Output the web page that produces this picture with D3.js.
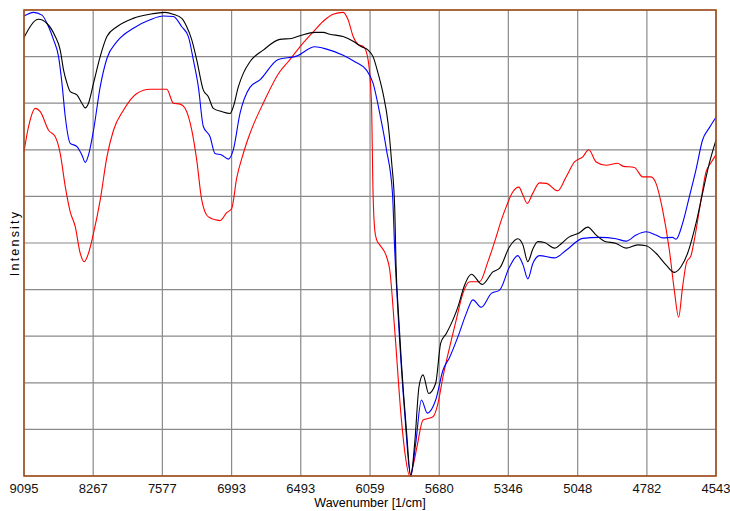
<!DOCTYPE html><html><head><meta charset="UTF-8"><title>NIR spectra</title><script src="https://d3js.org/d3.v7.min.js"></script><style>
        body { margin: 0; background: #fff; font-family: "Liberation Sans", Arial, sans-serif; }
        svg { display: block; }
        .grid line { stroke: #8a8a8a; stroke-width: 1.2; }
        .spec { fill: none; stroke-width: 1.1; }
        .tick-label { font-size: 13px; fill: #111; }
    </style></head><body><svg id="chart"></svg><script>
        // x tick labels (wavenumber, 1/cm) - axis is linear in wavelength
        const tickWavenumbers = [9095, 8267, 7577, 6993, 6493, 6059, 5680, 5346, 5048, 4782, 4543];

        // wavelength (nm) and intensity (% of range)
        const blackNm = [1099.5, 1122.7, 1136.1, 1149.3, 1157.2, 1162.5, 1167.9, 1173.1, 1183.8, 1191.7, 1197.0, 1202.2, 1210.2, 1220.8, 1231.5, 1247.4, 1273.3, 1300.3, 1324.2, 1336.9, 1350.7, 1358.6, 1366.6, 1374.5, 1385.0, 1393.0, 1400.9, 1414.3, 1427.5, 1432.7, 1440.7, 1448.6, 1459.2, 1480.4, 1506.9, 1525.5, 1541.4, 1562.6, 1575.8, 1586.4, 1607.6, 1623.5, 1636.8, 1647.3, 1655.2, 1663.2, 1671.1, 1679.1, 1684.5, 1689.8, 1691.8, 1695.3, 1700.4, 1708.3, 1715.2, 1721.5, 1728.4, 1734.7, 1743.8, 1754.9, 1762.9, 1771.9, 1782.4, 1790.4, 1801.0, 1811.7, 1829.1, 1846.0, 1856.7, 1872.5, 1885.7, 1893.7, 1901.6, 1909.6, 1917.5, 1928.2, 1944.1, 1955.2, 1966.3, 1983.8, 1997.0, 2010.4, 2023.6, 2042.2, 2058.1, 2076.5, 2089.9, 2105.7, 2121.6, 2134.8, 2145.5, 2156.0, 2169.3, 2179.8, 2190.5, 2201.2];
        const blackInt = [94.1, 98.0, 97.1, 94.3, 91.4, 87.1, 84.3, 82.5, 81.8, 80.0, 79.0, 80.0, 84.3, 90.0, 94.3, 96.4, 98.2, 99.1, 99.5, 99.1, 98.2, 96.4, 93.6, 89.3, 82.8, 81.4, 78.9, 78.2, 77.8, 79.2, 83.5, 86.4, 88.9, 91.4, 93.7, 93.9, 94.6, 95.2, 95.2, 94.8, 94.3, 93.3, 92.1, 91.4, 90.0, 86.4, 82.1, 75.7, 67.8, 57.1, 45.3, 35.6, 24.2, 9.9, 0.0, 7.0, 19.2, 21.7, 17.7, 19.9, 28.5, 30.6, 33.5, 36.3, 41.0, 43.3, 41.1, 43.8, 44.6, 49.2, 50.9, 49.6, 46.0, 48.7, 50.3, 50.1, 48.9, 49.9, 51.2, 52.2, 53.4, 51.7, 50.4, 49.9, 48.9, 49.6, 49.4, 47.8, 45.3, 43.7, 44.9, 47.8, 54.2, 60.7, 67.1, 72.1];

        const blueNm = [1099.5, 1114.8, 1128.1, 1138.6, 1146.6, 1154.5, 1159.9, 1165.2, 1173.1, 1183.8, 1191.7, 1197.0, 1202.2, 1210.2, 1220.8, 1231.5, 1247.4, 1273.7, 1300.3, 1321.4, 1337.3, 1350.7, 1361.2, 1369.1, 1377.1, 1385.0, 1395.7, 1403.6, 1414.3, 1424.8, 1432.7, 1443.4, 1459.2, 1475.1, 1504.2, 1533.5, 1562.6, 1581.2, 1607.6, 1626.2, 1644.8, 1655.2, 1665.9, 1676.6, 1686.1, 1689.7, 1695.0, 1705.6, 1715.2, 1723.1, 1732.2, 1741.7, 1754.9, 1766.5, 1777.2, 1790.4, 1803.7, 1814.2, 1827.6, 1843.5, 1856.7, 1872.5, 1885.7, 1894.0, 1901.6, 1909.6, 1920.2, 1944.1, 1963.1, 1989.1, 2015.6, 2042.2, 2058.1, 2073.9, 2089.9, 2105.7, 2116.2, 2132.1, 2137.5, 2148.0, 2158.7, 2169.3, 2179.8, 2190.5, 2201.2];
        const blueInt = [98.7, 99.5, 98.9, 96.4, 93.6, 90.0, 84.3, 77.1, 71.4, 70.7, 68.9, 67.3, 68.9, 74.2, 83.5, 89.6, 93.2, 96.1, 97.9, 98.7, 98.6, 96.4, 94.3, 89.3, 83.5, 75.0, 72.8, 69.2, 68.9, 68.0, 70.0, 77.8, 83.4, 85.0, 89.4, 90.1, 92.1, 91.6, 90.3, 88.9, 87.1, 84.3, 77.8, 70.0, 60.7, 48.5, 34.9, 13.5, 0.0, 7.0, 16.3, 13.5, 16.3, 22.7, 25.5, 29.9, 34.9, 37.8, 36.2, 39.2, 39.9, 44.9, 47.3, 45.3, 42.3, 45.6, 47.3, 46.8, 48.5, 51.0, 51.2, 50.9, 50.4, 51.7, 52.4, 51.7, 51.1, 51.2, 50.8, 54.2, 59.9, 65.7, 72.1, 74.7, 77.0];

        const redNm = [1099.5, 1106.8, 1117.5, 1125.4, 1138.6, 1149.3, 1157.2, 1165.2, 1173.1, 1181.1, 1189.0, 1195.4, 1202.2, 1210.2, 1220.8, 1231.5, 1242.0, 1257.8, 1279.1, 1300.3, 1326.8, 1337.3, 1348.0, 1355.9, 1366.6, 1374.5, 1382.5, 1393.0, 1411.6, 1422.2, 1430.2, 1438.1, 1448.6, 1459.2, 1464.5, 1480.4, 1506.9, 1520.1, 1538.7, 1559.9, 1578.5, 1591.7, 1607.6, 1615.5, 1623.5, 1631.4, 1640.5, 1647.3, 1652.7, 1655.2, 1657.9, 1661.1, 1665.9, 1676.6, 1681.8, 1689.7, 1700.4, 1706.4, 1713.5, 1719.2, 1725.2, 1734.7, 1750.6, 1758.6, 1766.5, 1779.9, 1788.3, 1798.3, 1809.0, 1824.9, 1838.1, 1851.4, 1859.4, 1867.3, 1877.8, 1887.4, 1893.7, 1900.7, 1909.6, 1920.2, 1930.9, 1949.3, 1962.7, 1975.9, 1989.1, 1998.6, 2010.4, 2026.3, 2044.7, 2052.7, 2071.3, 2084.5, 2097.8, 2105.7, 2116.2, 2126.9, 2134.8, 2141.7, 2148.0, 2154.4, 2161.4, 2166.6, 2177.3, 2185.2, 2193.2, 2201.2];
        const redInt = [69.6, 75.0, 78.9, 78.2, 74.2, 72.8, 69.2, 62.1, 56.7, 53.5, 47.8, 46.0, 47.8, 52.1, 59.2, 68.5, 74.2, 78.5, 82.1, 83.0, 83.0, 80.0, 79.8, 78.9, 74.2, 67.8, 59.2, 55.6, 54.8, 56.5, 57.4, 63.9, 69.2, 73.5, 75.3, 80.0, 86.8, 88.9, 92.1, 95.3, 97.9, 99.1, 99.5, 97.9, 94.3, 92.6, 92.1, 89.3, 80.0, 60.7, 52.8, 50.6, 49.6, 47.1, 44.2, 31.3, 12.0, 4.5, 0.0, 2.4, 6.3, 12.0, 12.7, 15.6, 21.3, 29.2, 33.9, 39.2, 41.7, 41.7, 46.0, 51.4, 54.9, 57.8, 61.0, 62.0, 60.3, 58.5, 60.7, 62.9, 62.8, 61.2, 64.2, 67.4, 68.5, 70.0, 67.4, 66.7, 67.1, 66.5, 66.2, 64.2, 64.2, 62.8, 57.1, 48.5, 39.9, 34.1, 40.6, 45.9, 47.3, 50.6, 59.2, 65.2, 67.2, 68.9];

        const series = [
            { nm: redNm, val: redInt, color: "#ff0000" },
            { nm: blueNm, val: blueInt, color: "#0000ff" },
            { nm: blackNm, val: blackInt, color: "#000000" }
        ];

        const width = 730, height = 511;
        const margin = { top: 10, right: 14, bottom: 35, left: 24 };
        const innerW = width - margin.left - margin.right;
        const innerH = height - margin.top - margin.bottom;

        const svg = d3.select("#chart").attr("width", width).attr("height", height);
        const g = svg.append("g").attr("transform", `translate(${margin.left},${margin.top})`);

        const x = d3.scaleLinear()
            .domain([1e7 / tickWavenumbers[0], 1e7 / tickWavenumbers[tickWavenumbers.length - 1]])
            .range([0, innerW]);
        const y = d3.scaleLinear().domain([0, 100]).range([innerH, 0]);

        // grid
        const grid = g.append("g").attr("class", "grid");
        grid.selectAll(".v").data(tickWavenumbers).enter().append("line")
            .attr("x1", d => x(1e7 / d)).attr("x2", d => x(1e7 / d))
            .attr("y1", 0).attr("y2", innerH);
        grid.selectAll(".h").data(d3.range(0, 101, 10)).enter().append("line")
            .attr("x1", 0).attr("x2", innerW)
            .attr("y1", d => y(d)).attr("y2", d => y(d));

        // spectra
        const line = d3.line()
            .x(d => x(d[0]))
            .y(d => y(d[1]))
            .curve(d3.curveMonotoneX);

        series.forEach(s => {
            g.append("path")
                .attr("class", "spec")
                .attr("stroke", s.color)
                .attr("d", line(d3.zip(s.nm, s.val)));
        });

        // frame
        g.append("rect")
            .attr("width", innerW).attr("height", innerH)
            .attr("fill", "none").attr("stroke", "#a5521f").attr("stroke-width", 1.6);

        // x labels
        g.selectAll(".tick-label").data(tickWavenumbers).enter().append("text")
            .attr("class", "tick-label")
            .attr("x", d => x(1e7 / d))
            .attr("y", innerH + 17)
            .attr("text-anchor", "middle")
            .text(d => d);

        svg.append("text")
            .attr("x", margin.left + innerW / 2)
            .attr("y", height - 4)
            .attr("text-anchor", "middle")
            .style("font-size", "12.5px")
            .text("Wavenumber [1/cm]");

        svg.append("text")
            .attr("transform", `translate(19,${margin.top + innerH / 2}) rotate(-90)`)
            .attr("text-anchor", "middle")
            .style("font-size", "12.5px")
            .style("letter-spacing", "2.2px")
            .text("Intensity");
    </script></body></html>
